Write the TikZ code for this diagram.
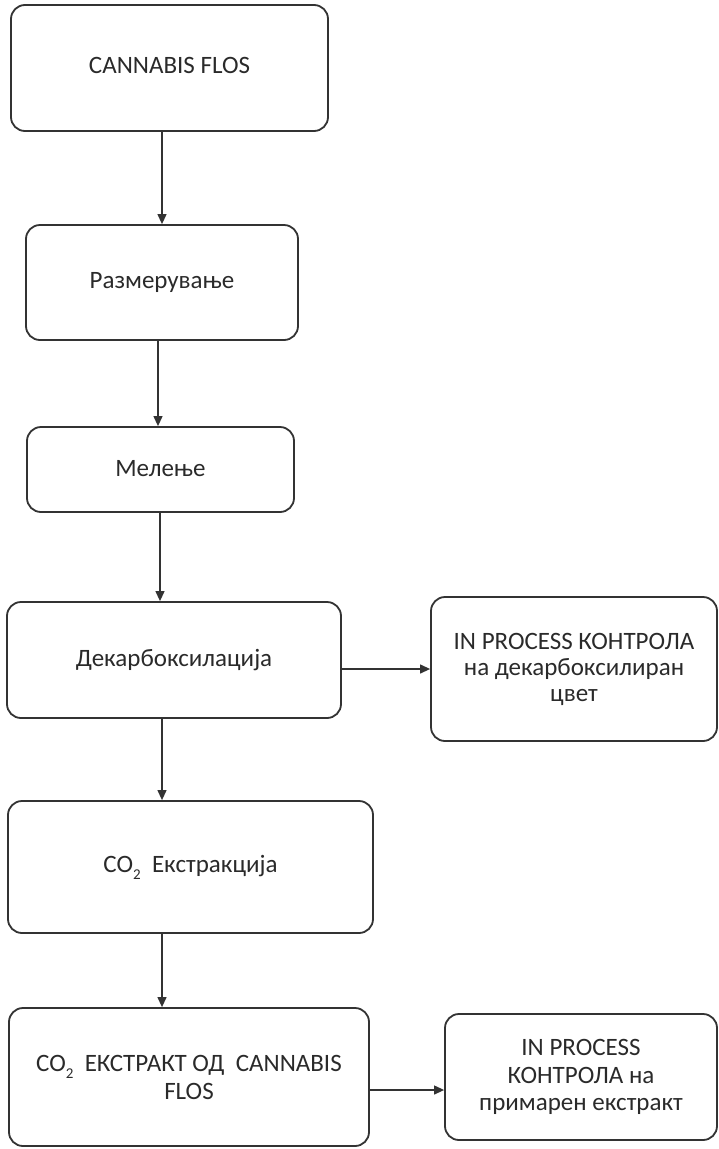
\documentclass[tikz,border=0pt]{standalone}
\usepackage{fontspec}
\setmainfont{Carlito}
\usetikzlibrary{arrows.meta}
\definecolor{ink}{HTML}{333333}
\definecolor{txt}{HTML}{2A2A2A}
\newcommand{\subtwo}{\raisebox{-0.6ex}{\fontsize{15}{15}\selectfont 2}}
\tikzset{
  box/.style={draw=ink, line width=1.8pt, rounded corners=14pt, rectangle,
    align=center, text=txt, inner sep=0pt,
    font=\fontsize{25}{27}\selectfont},
  arr/.style={draw=ink, line width=1.2pt, -{Triangle[length=10pt,width=9pt]}}
}
\begin{document}
\begin{tikzpicture}[x=1pt,y=-1pt]
\useasboundingbox (0,0) rectangle (719,1149);
\node[box, minimum width=317pt, minimum height=126pt] (b1) at (169.5,68) {\raisebox{5pt}{CANNABIS FLOS}};
\node[box, minimum width=272pt, minimum height=115pt] (b2) at (162,282.5) {\raisebox{2pt}{Размерување}};
\node[box, minimum width=267pt, minimum height=85pt] (b3) at (160.5,469.5) {\raisebox{3pt}{Мелење}};
\node[box, minimum width=334pt, minimum height=116pt] (b4) at (174,660) {\raisebox{2pt}{Декарбоксилација}};
\node[box, minimum width=286pt, minimum height=144pt, font=\fontsize{25}{26}\selectfont] (b5) at (574,669)
  {IN PROCESS КОНТРОЛА\\на декарбоксилиран\\цвет};
\node[box, minimum width=365pt, minimum height=132pt] (b6) at (190.5,867) {\raisebox{4pt}{CO\subtwo~ Екстракција}};
\node[box, minimum width=360pt, minimum height=138pt, font=\fontsize{25}{28}\selectfont] (b7) at (189,1077)
  {CO\subtwo~ ЕКСТРАКТ ОД~ CANNABIS\\FLOS};
\node[box, minimum width=272pt, minimum height=126pt, font=\fontsize{25}{27.5}\selectfont] (b8) at (581,1077)
  {IN PROCESS\\КОНТРОЛА на\\примарен екстракт};
% connectors
\draw[arr] (b2.north |- b1.south) -- (b2.north);
\coordinate (c3) at ([xshift=-2.5pt]b3.north);
\draw[arr] (c3 |- b2.south) -- (c3);
\coordinate (c4) at ([xshift=-0.5pt]b3.south);
\draw[arr] (c4) -- (c4 |- b4.north);
\coordinate (c6) at ([xshift=-28.5pt]b6.north);
\draw[arr] (c6 |- b4.south) -- (c6);
\coordinate (c7) at ([xshift=-27pt]b7.north);
\draw[arr] (c7 |- b6.south) -- (c7);
\draw[arr] (b4.east |- b5.west) -- (b5.west);
\coordinate (p8) at ([yshift=-13pt]b8.west);
\draw[arr] (p8 -| b7.east) -- (p8);
\end{tikzpicture}
\end{document}
